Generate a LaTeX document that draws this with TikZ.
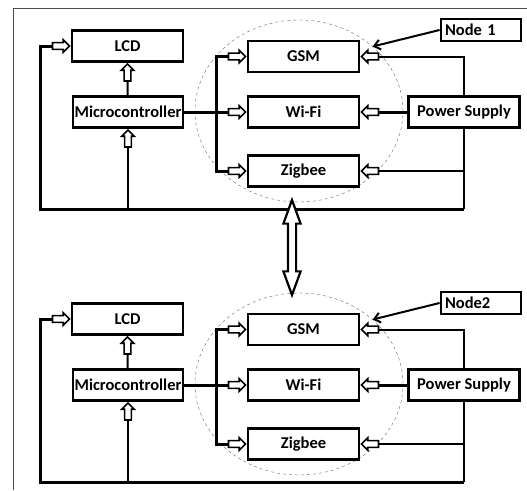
\documentclass[tikz,border=0pt]{standalone}
\usepackage{fontspec}
\setmainfont{Carlito}
\usetikzlibrary{shapes.geometric, shapes.arrows, arrows.meta, positioning}

\tikzset{
    block/.style={draw, fill=white, line width=2.8pt, minimum height=31pt, inner sep=0pt, font=\bfseries\fontsize{16.5}{19}\selectfont},
    heavy/.style={line width=3pt},
    light/.style={line width=2pt},
    harrow/.style={single arrow, draw, fill=white, line width=1.6pt, inner sep=2.6pt, single arrow head extend=2.8pt, minimum height=17pt, anchor=tip},
    linkarrow/.style={double arrow, draw, fill=white, line width=2.2pt, inner sep=3pt, double arrow head extend=4.5pt, double arrow tip angle=40, minimum height=95pt},
    zone/.style={ellipse, draw=black!60, dashed, thin, minimum width=208pt, minimum height=182pt, inner sep=0pt}
}

\begin{document}
\begin{tikzpicture}[x=1pt, y=-1pt]
    \useasboundingbox (0,0) rectangle (527,490);
    % Frame
    \draw[black!70] (13,490) -- (13,8) -- (527,8);
    \foreach \i/\o/\lab in {1/0/Node 1, 2/273/Node2} {
        % Dashed zone
        \node[zone] (zone\i) at (299,111+\o) {};
        % Boxes
        \node[block, minimum width=111pt] (lcd\i) at (127.5,46+\o) {LCD};
        \node[block, minimum width=110pt] (mcu\i) at (128,112+\o) {Microcontroller};
        \node[block, minimum width=111pt] (gsm\i) at (303.5,56.5+\o) {GSM};
        \node[block, minimum width=111pt] (wifi\i) at (303.5,112+\o) {Wi-Fi};
        \node[block, minimum width=111pt] (zig\i) at (303.5,171+\o) {Zigbee};
        \node[block, minimum width=111pt] (ps\i) at (464,112+\o) {Power Supply};
        \node[block, minimum height=22pt, text width=72pt, align=left, inner sep=4pt] (lab\i) at (481,30+\o) {\lab};
        % Hollow arrow heads
        \node[harrow, shape border rotate=90] (ha\i) at (lcd\i.south) {};
        \node[harrow, shape border rotate=90] (hb\i) at (mcu\i.south) {};
        \node[harrow] (hc\i) at (lcd\i.west) {};
        \node[harrow] (hd\i) at (gsm\i.west) {};
        \node[harrow] (he\i) at (wifi\i.west) {};
        \node[harrow] (hf\i) at (zig\i.west) {};
        \node[harrow, shape border rotate=180] (hg\i) at (gsm\i.east) {};
        \node[harrow, shape border rotate=180] (hh\i) at (wifi\i.east) {};
        \node[harrow, shape border rotate=180] (hk\i) at (zig\i.east) {};
        % Wiring
        \coordinate (bus\i) at (216,112+\o);
        \coordinate (bl\i) at (40,209+\o);
        \coordinate (br\i) at (464,209+\o);
        \draw[light] (mcu\i) -- (ha\i.tail);
        \draw[heavy] (mcu\i) -- (bus\i) -- (he\i.tail);
        \draw[heavy] (hd\i.tail) -| (bus\i) |- (hf\i.tail);
        \draw[heavy] (br\i) -- (bl\i) |- (hc\i.tail);
        \draw[light] (hb\i.tail) -- (hb\i.tail |- bl\i);
        \draw[light] (hg\i.tail) -| (ps\i.north);
        \draw[heavy] (ps\i) -- (hh\i.tail);
        \draw[light] (ps\i.south) -- (br\i);
        \draw[light] (hk\i.tail) -- (hk\i.tail -| br\i);
        % Label pointer
        \draw[light, -{Straight Barb[length=6pt, width=10pt]}] (lab\i.west) -- (zone\i.north east);
    }
    % Link between nodes
    \path ([xshift=-7pt]zone1.south) -- node[linkarrow, sloped] (link) {} ([xshift=-7pt]zone2.north);
\end{tikzpicture}
\end{document}
